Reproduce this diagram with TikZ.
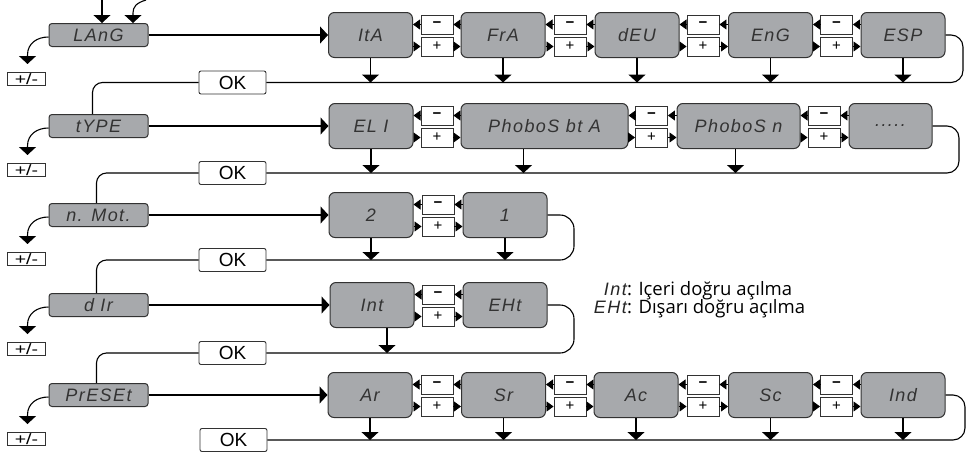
\documentclass[tikz,border=0pt]{standalone}
\usepackage{fontspec}
\setmainfont{Liberation Sans}
\newfontfamily\lcdfont{Liberation Sans}[LetterSpace=8]
\newfontfamily\capfont{Open Sans}
\usetikzlibrary{arrows.meta,calc}
\definecolor{lcdgray}{RGB}{167,169,172}
\definecolor{edgegray}{RGB}{50,50,50}
\newcommand\pmpair[5]{%
  \node[pmbox] (#1m) at (#2,#3-10.5) {\textbf{−}};
  \node[pmbox] (#1p) at (#2,#3+11.5) {+};
  \draw[smalltip] (#1m.west) -- (#1m.west -| #4.east);
  \draw[smalltip] (#1m.east -| #5.west) -- (#1m.east);
  \draw[smalltip] (#1p.west -| #4.east) -- (#1p.west);
  \draw[smalltip] (#1p.east) -- (#1p.east -| #5.west);
}
\newcommand\sidearrow[2]{%
  \draw[conn,bigtip] ($(#1.west)+(0,2)$) .. controls ($(#1.west)+(-11,2)$) and ($(#1.west)+(-21,8)$) .. ($(#1.west)+(-21,20)$) -- ($(#1.west)+(-21,29)$);
  \node[pmside] (#2) at ($(#1.west)+(-22,44)$) {\scalebox{1.3}[1]{+/-}};
}
\begin{document}
\begin{tikzpicture}[x=1pt,y=-1pt,
  conn/.style={draw=black,line width=1.1pt},
  bigtip/.style={-{Triangle[width=17pt,length=8pt]}},
  smalltip/.style={draw=black,line width=0.8pt,-{Triangle[width=10pt,length=7pt]}},
  lbl/.style={draw=edgegray,fill=lcdgray,line width=1pt,rounded corners=3pt,minimum width=99pt,minimum height=23pt,inner sep=0pt,font=\lcdfont\itshape\fontsize{18}{18}\selectfont,text=black!80},
  val/.style={lbl,rounded corners=6pt,minimum width=84pt,minimum height=45pt},
  okbox/.style={draw=edgegray,fill=white,line width=0.9pt,rounded corners=2pt,minimum width=67pt,minimum height=23pt,inner sep=0pt,font=\fontsize{19}{19}\selectfont},
  pmbox/.style={draw=edgegray,fill=white,line width=0.9pt,minimum width=32pt,minimum height=19pt,inner sep=0pt,font=\fontsize{15}{15}\selectfont},
  pmside/.style={draw=edgegray,fill=white,line width=0.8pt,minimum width=38pt,minimum height=13pt,inner sep=0pt,font=\fontsize{15}{15}\selectfont},
  captxt/.style={inner sep=0pt,font=\capfont\fontsize{18.5}{18.5}\selectfont},
  caplcd/.style={inner sep=0pt,font=\lcdfont\itshape\fontsize{18}{18}\selectfont,text=black!85}
]
\useasboundingbox (0,0) rectangle (967,453);

% ---------- row 1 ----------
\node[lbl] (LAnG) at (98.5,35) {LAnG};
\node[val] (ItA) at (370.5,35) {ItA};
\node[val] (FrA) at (503,35) {FrA};
\node[val] (dEU) at (637,35) {dEU};
\node[val] (EnG) at (770.5,35) {EnG};
\node[val] (ESP) at (903,35) {ESP};
\pmpair{a1}{437}{35}{ItA}{FrA}
\pmpair{a2}{570}{35}{FrA}{dEU}
\pmpair{a3}{703}{35}{dEU}{EnG}
\pmpair{a4}{836.5}{35}{EnG}{ESP}
\node[okbox] (OK1) at (232.5,82.5) {OK};
\coordinate (r1) at (963,82.5);

% ---------- row 2 ----------
\node[lbl] (tYPE) at (98.5,126) {tYPE};
\node[val] (EL1) at (371,126) {EL I};
\node[val,minimum width=167pt] (PBA) at (544.5,126) {PhoboS bt A};
\node[val,minimum width=123pt] (PBn) at (738.5,126) {PhoboS n};
\node[val,minimum width=83pt] (Dots) at (890.5,126) {.....};
\pmpair{b1}{437}{126}{EL1}{PBA}
\pmpair{b2}{651.5}{126}{PBA}{PBn}
\pmpair{b3}{824}{126}{PBn}{Dots}
\node[okbox] (OK2) at (232.5,173) {OK};
\coordinate (r2) at (959,173);

% ---------- row 3 ----------
\node[lbl] (nMot) at (98.5,215) {n. Mot.};
\node[val] (two) at (371,215) {2};
\node[val] (one) at (505,215) {1};
\pmpair{c1}{438}{215}{two}{one}
\node[okbox] (OK3) at (232.5,260) {OK};
\coordinate (r3) at (574,260);

% ---------- row 4 ----------
\node[lbl] (dIr) at (98.5,305) {d Ir};
\node[val] (Int) at (372,305) {Int};
\node[val] (EHt) at (505,305) {EHt};
\pmpair{d1}{438}{305}{Int}{EHt}
\node[okbox] (OK4) at (232.5,353) {OK};
\coordinate (r4) at (574,353);

% ---------- row 5 ----------
\node[lbl] (PrESEt) at (98.5,395) {PrESEt};
\node[val] (Ar) at (370,395) {Ar};
\node[val] (Sr) at (503.5,395) {Sr};
\node[val] (Ac) at (636,395) {Ac};
\node[val] (Sc) at (770.5,395) {Sc};
\node[val] (Ind) at (903,395) {Ind};
\pmpair{e1}{437}{395}{Ar}{Sr}
\pmpair{e2}{570}{395}{Sr}{Ac}
\pmpair{e3}{703}{395}{Ac}{Sc}
\pmpair{e4}{836.5}{395}{Sc}{Ind}
\node[okbox] (OK5) at (233.5,440) {OK};
\coordinate (r5) at (965,440);

% ---------- top arrows ----------
\coordinate (top1) at (102,0);
\draw[conn,bigtip] (top1) -- (top1 |- LAnG.north);
\coordinate (top2) at (146,0);
\coordinate (top2b) at (133,13);
\draw[conn,bigtip] (top2) .. controls (136,3) and (133,7) .. (top2b) -- (top2b |- LAnG.north);

% ---------- side arrows and +/- ----------
\sidearrow{LAnG}{pm1}
\sidearrow{tYPE}{pm2}
\sidearrow{nMot}{pm3}
\sidearrow{dIr}{pm4}
\sidearrow{PrESEt}{pm5}

% ---------- entry arrows ----------
\draw[conn,bigtip] (LAnG.east) -- (ItA.west);
\draw[conn,bigtip] (tYPE.east) -- (EL1.west);
\draw[conn,bigtip] (nMot.east) -- (two.west);
\draw[conn,bigtip] (dIr.east) -- (Int.west);
\draw[conn,bigtip] (PrESEt.east) -- (Ar.west);

% ---------- down arrows ----------
\foreach \n in {ItA,FrA,dEU,EnG,ESP} \draw[conn,bigtip] (\n.south) -- (\n.south |- OK1);
\draw[conn,bigtip] (EL1.south) -- (EL1.south |- OK2);
\draw[conn,bigtip] ([xshift=-21pt]PBA.south) -- ([xshift=-21pt]PBA.south |- OK2);
\draw[conn,bigtip] ([xshift=-3pt]PBn.south) -- ([xshift=-3pt]PBn.south |- OK2);
\foreach \n in {two,one} \draw[conn,bigtip] (\n.south) -- (\n.south |- OK3);
\draw[conn,bigtip] ([xshift=15pt]Int.south) -- ([xshift=15pt]Int.south |- OK4);
\foreach \n in {Ar,Sr,Ac,Sc,Ind} \draw[conn,bigtip] (\n.south) -- (\n.south |- OK5);

% ---------- OK buses ----------
\draw[conn,rounded corners=12pt] (ESP.east) -| (r1) -- (OK1.east);
\draw[conn,rounded corners=10pt] (OK1.west) -| ([xshift=-6pt]tYPE.north);
\draw[conn,rounded corners=12pt] (Dots.east) -| (r2) -- (OK2.east);
\draw[conn,rounded corners=10pt] (OK2.west) -| ([xshift=-2pt]nMot.north);
\draw[conn,rounded corners=14pt] (one.east) -| (r3) -- (OK3.east);
\draw[conn,rounded corners=10pt] (OK3.west) -| ([xshift=-2pt]dIr.north);
\draw[conn,rounded corners=14pt] (EHt.east) -| (r4) -- (OK4.east);
\draw[conn,rounded corners=10pt] (OK4.west) -| ([xshift=-2pt]PrESEt.north);
\draw[conn,rounded corners=12pt] (Ind.east) -| (r5) -- (OK5.east);

% ---------- caption ----------
\node[caplcd,anchor=base east] (c1a) at (627,295) {Int};
\node[captxt,anchor=base west] (c1b) at (c1a.base east) {: Içeri doğru açılma};
\node[caplcd,anchor=base east] (c2a) at (627,313) {EHt};
\node[captxt,anchor=base west] (c2b) at (c2a.base east) {: Dışarı doğru açılma};
\end{tikzpicture}
\end{document}
